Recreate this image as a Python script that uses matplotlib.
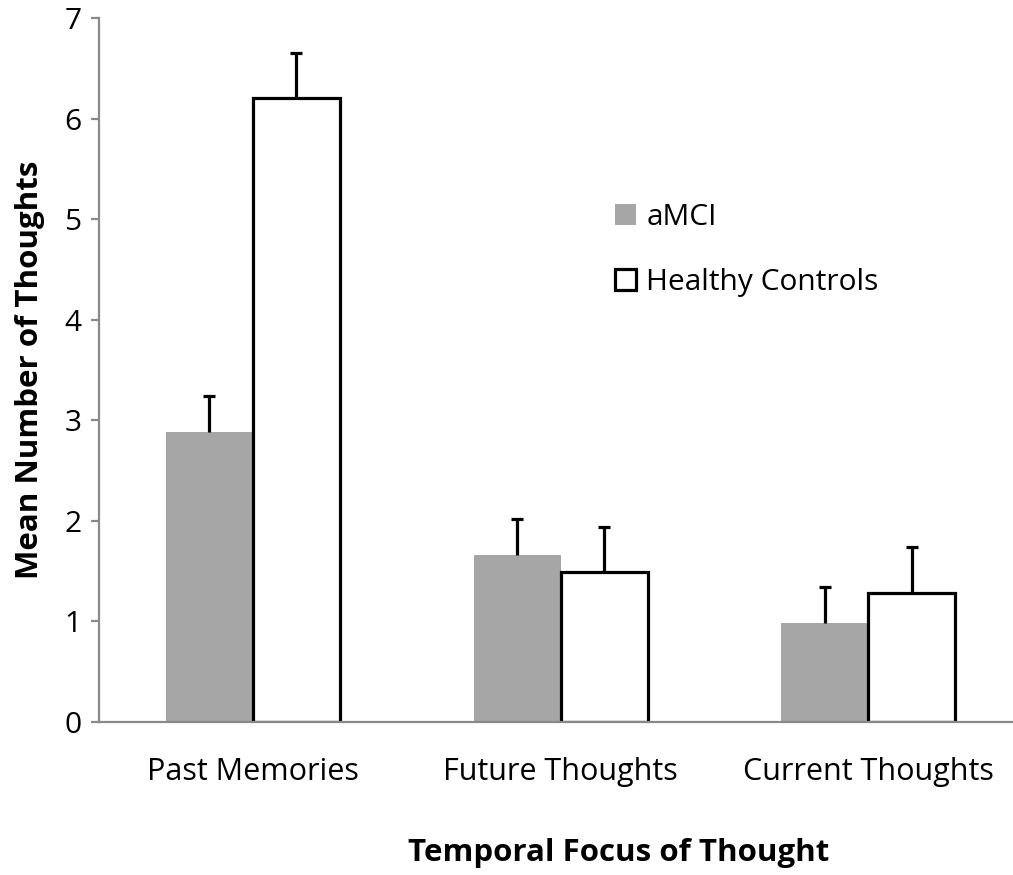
import matplotlib
matplotlib.use("Agg")
import matplotlib.pyplot as plt
from matplotlib.patches import Patch
import numpy as np

plt.rcParams["font.family"] = ["Open Sans", "DejaVu Sans"]

# data
categories = ["Past Memories", "Future Thoughts", "Current Thoughts"]
amci_mean = [2.88, 1.66, 0.98]
amci_err = [0.36, 0.36, 0.36]
hc_mean = [6.20, 1.49, 1.28]
hc_err = [0.45, 0.45, 0.46]

GRAY = "#a6a6a6"
AXIS = "#898989"

fig = plt.figure(figsize=(10.13, 8.75), dpi=100)
ax = fig.add_axes([99 / 1013, 1 - 722 / 875, (1013 - 99) / 1013, (722 - 18) / 875])

x = np.arange(len(categories))
w = 0.283

ax.bar(x - w / 2, amci_mean, width=w, color=GRAY, edgecolor="none", zorder=2)
ax.bar(x + w / 2, hc_mean, width=w, color="white", edgecolor="black",
       linewidth=2.3, zorder=2)


def up_errbars(xs, ys, errs):
    eb = ax.errorbar(xs, ys, yerr=[np.zeros(len(errs)), errs], fmt="none",
                     ecolor="black", elinewidth=2.3, capsize=4, capthick=2.3,
                     zorder=3)
    # hide the lower cap, keep only the upper one
    eb[1][0].set_visible(False)


up_errbars(x - w / 2, amci_mean, amci_err)
up_errbars(x + w / 2, hc_mean, hc_err)

ax.set_xlim(-0.5, 2.47)
ax.set_ylim(0, 7)
ax.set_yticks(range(0, 8))
ax.set_xticks(x)
ax.set_xticklabels(categories)

for s in ["top", "right"]:
    ax.spines[s].set_visible(False)
for s in ["left", "bottom"]:
    ax.spines[s].set_color(AXIS)
    ax.spines[s].set_linewidth(1.6)

ax.tick_params(axis="y", direction="out", length=5.5, width=1.6, color=AXIS,
               labelsize=21.5, pad=7)
ax.tick_params(axis="x", length=0, labelsize=22, pad=25)

fig.text(30 / 1013, 1 - 370 / 875, "Mean Number of Thoughts", rotation=90,
         ha="center", va="center", fontsize=22.5, fontweight="bold")
fig.text(619 / 1013, 1 - 853 / 875, "Temporal Focus of Thought",
         ha="center", va="center", fontsize=22.5, fontweight="bold")

handles = [Patch(facecolor=GRAY, edgecolor="none"),
           Patch(facecolor="white", edgecolor="black", linewidth=2.3)]
fig.legend(handles, ["aMCI", "Healthy Controls"], loc="center left",
           bbox_to_anchor=(588 / 1013, 1 - 250 / 875), frameon=False,
           fontsize=21.5, handlelength=0.7, handleheight=0.7, handletextpad=0.35,
           labelspacing=1.2)

fig.savefig("out.png", dpi=100)
